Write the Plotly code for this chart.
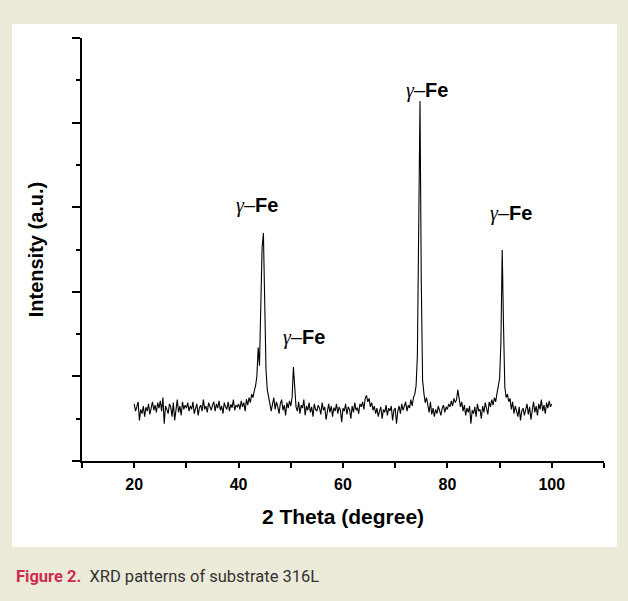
import numpy as np
import plotly.graph_objects as go

# ---- data ----
two_theta_start = 20.0
two_theta_step = 0.25
intensity = [
    # 20.00 - 24.75
    135, 118, 128, 140, 96, 122, 112, 130, 105, 127, 118, 135, 110, 128, 140, 120, 132, 115, 138, 125,
    # 25.00 - 29.75
    142, 118, 150, 88, 130, 122, 112, 135, 128, 105, 138, 96, 125, 145, 115, 130, 108, 140, 122, 132,
    # 30.00 - 34.75
    125, 138, 118, 130, 122, 140, 112, 128, 135, 108, 126, 132, 118, 145, 122, 130, 115, 138, 126, 120,
    # 35.00 - 39.75
    132, 140, 118, 135, 125, 142, 120, 130, 112, 138, 128, 122, 140, 118, 134, 126, 145, 120, 132, 128,
    # 40.00 - 44.75
    135, 122, 142, 128, 138, 118, 146, 132, 150, 138, 158, 150, 165, 178, 200, 268, 225, 340, 505, 539,
    # 45.00 - 49.75
    385, 215, 168, 150, 142, 118, 135, 150, 122, 140, 128, 112, 136, 145, 120, 132, 108, 138, 125, 142,
    # 50.00 - 54.75
    130, 150, 222, 165, 128, 118, 140, 112, 132, 125, 145, 108, 130, 120, 138, 115, 128, 105, 135, 122,
    # 55.00 - 59.75
    118, 132, 125, 110, 138, 120, 128, 98, 122, 135, 115, 130, 105, 126, 118, 135, 112, 128, 120, 92,
    # 60.00 - 64.75
    125, 118, 135, 110, 128, 122, 100, 130, 115, 138, 120, 126, 112, 135, 128, 140, 122, 148, 155, 140,
    # 65.00 - 69.75
    148, 128, 138, 120, 130, 112, 125, 105, 118, 128, 100, 122, 115, 132, 108, 125, 118, 130, 96, 120,
    # 70.00 - 74.75
    125, 88, 118, 130, 112, 135, 120, 128, 140, 118, 132, 125, 145, 130, 150, 158, 178, 250, 560, 851,
    # 75.00 - 79.75
    420, 190, 160, 138, 150, 128, 115, 140, 110, 125, 105, 122, 112, 130, 118, 108, 125, 132, 115, 128,
    # 80.00 - 84.75
    122, 135, 128, 142, 130, 148, 138, 145, 168, 150, 128, 140, 118, 132, 108, 125, 115, 130, 88, 120,
    # 85.00 - 89.75
    112, 128, 105, 135, 118, 122, 100, 130, 115, 138, 125, 110, 140, 128, 145, 132, 150, 140, 160, 175,
    # 90.00 - 94.75
    195, 280, 499, 320, 175, 150, 158, 140, 148, 122, 140, 112, 130, 118, 105, 128, 96, 118, 125, 108,
    # 95.00 - 99.75
    120, 135, 110, 128, 98, 125, 140, 115, 130, 108, 135, 122, 145, 118, 132, 112, 138, 125, 142, 128,
    # 100.00
    135,
]
two_theta = [two_theta_start + two_theta_step * i for i in range(len(intensity))]

peak_labels = ["γ", "γ", "γ", "γ"]
label_x = [43.5, 52.5, 76.1, 92.2]
label_y = [603, 291, 877, 584]

x_tick_vals = [10, 20, 30, 40, 50, 60, 70, 80, 90, 100, 110]
x_tick_text = ["", "20", "", "40", "", "60", "", "80", "", "100", ""]

BEIGE = "#ECEAD8"

# ---- figure ----
W, H = 628, 601
ML, MR, MT, MB = 82, 24, 38, 140
pw, ph = W - ML - MR, H - MT - MB

def px2paper_x(px):
    return (px - ML) / pw

def px2paper_y(py):
    return (H - MB - py) / ph

fig = go.Figure()
fig.add_trace(go.Scatter(x=two_theta, y=intensity, mode="lines",
                         line=dict(color="black", width=1.1), showlegend=False,
                         hoverinfo="skip"))

# white panel on beige page
fig.add_shape(type="rect", xref="paper", yref="paper",
              x0=px2paper_x(12), x1=px2paper_x(617),
              y0=px2paper_y(547), y1=px2paper_y(24),
              fillcolor="white", line=dict(width=0), layer="below")

for g, lx, ly in zip(peak_labels, label_x, label_y):
    fig.add_annotation(x=lx, y=ly, xref="x", yref="y",
                       text="<span style='font-family:Liberation Serif'><i>" + g + "</i></span>–<b>Fe</b>",
                       showarrow=False,
                       font=dict(family="Liberation Sans", size=20, color="black"),
                       xanchor="center", yanchor="middle")

fig.add_annotation(xref="paper", yref="paper", x=px2paper_x(14), y=px2paper_y(576),
                   xanchor="left", yanchor="middle", showarrow=False,
                   text="<span style='color:#CF2A4E'><b>Figure 2.</b></span>"
                        "  <span style='color:#333333'>XRD patterns of substrate 316L</span>",
                   font=dict(family="Roboto", size=16.5, color="#333333"))

axis_font = dict(family="Liberation Sans", size=16, color="black", weight="bold")
fig.update_xaxes(range=[10, 110], showline=True, linecolor="black", linewidth=2,
                 ticks="outside", tickvals=x_tick_vals, ticktext=x_tick_text,
                 ticklen=5, tickwidth=2, tickcolor="black", tickfont=axis_font,
                 ticklabelstandoff=3, showgrid=False, zeroline=False,
                 title=dict(text="2 Theta (degree)",
                            font=dict(family="Liberation Sans", size=21, color="black", weight="bold"),
                            standoff=17))
fig.update_yaxes(range=[0, 1000], showline=True, linecolor="black", linewidth=2,
                 ticks="outside", dtick=200, tick0=0, ticklen=8, tickwidth=2,
                 tickcolor="black", showticklabels=False, showgrid=False, zeroline=False,
                 minor=dict(ticks="outside", dtick=100, tick0=0, ticklen=4,
                            tickwidth=2, tickcolor="black"),
                 title=dict(text="Intensity (a.u.)",
                            font=dict(family="Liberation Sans", size=20, color="black", weight="bold"),
                            standoff=23))

fig.update_layout(width=W, height=H, margin=dict(l=ML, r=MR, t=MT, b=MB),
                  paper_bgcolor=BEIGE, plot_bgcolor="white")

fig.write_html("out.html", config={"displayModeBar": False},
               post_script="document.body.style.margin='0';"
                           "document.body.style.background='" + BEIGE + "';")
